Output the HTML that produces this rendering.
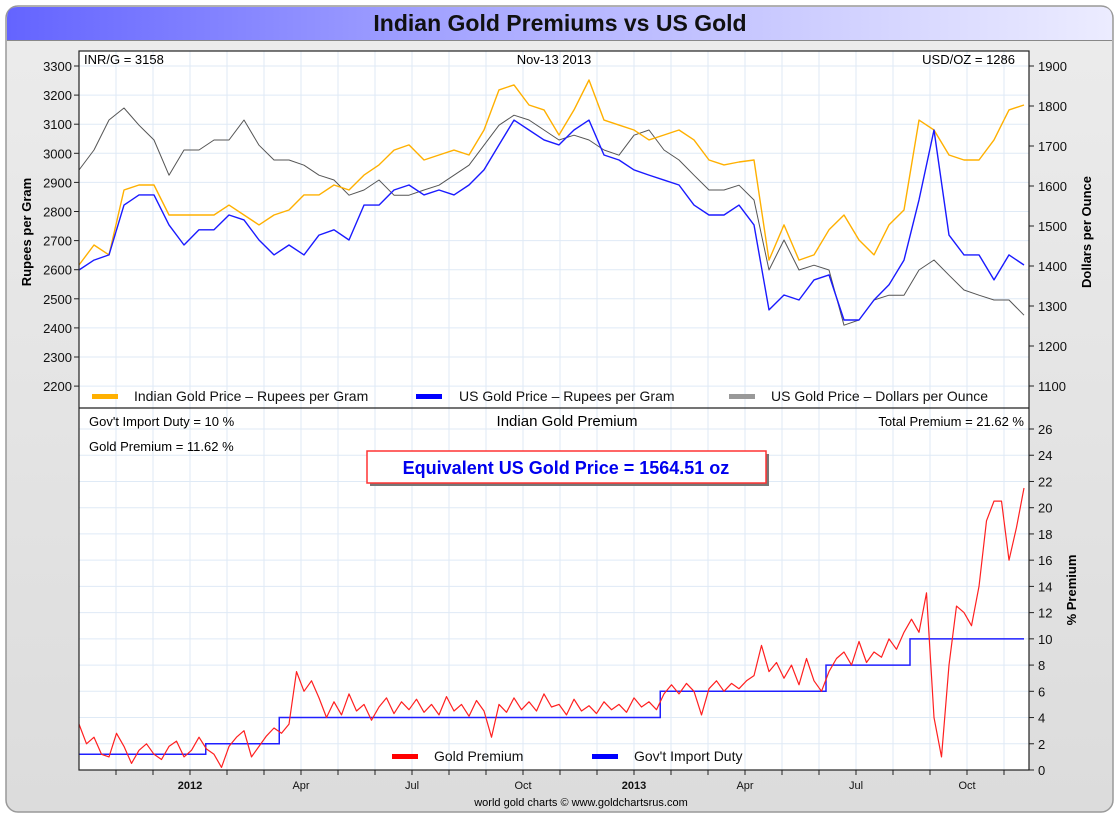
<!DOCTYPE html>
<html><head><meta charset="utf-8"><style>
body{margin:0;width:1119px;height:819px;background:#fff;overflow:hidden;font-family:"Liberation Sans",sans-serif}
</style></head><body>
<svg id="c" width="1119" height="819" xmlns="http://www.w3.org/2000/svg" font-family="Liberation Sans, sans-serif">
<defs>
<linearGradient id="tg" x1="0" x2="1" y1="0" y2="0"><stop offset="0" stop-color="#6464ff"/><stop offset="0.5" stop-color="#b4b4ff"/><stop offset="1" stop-color="#ececff"/></linearGradient>
<linearGradient id="bg" x1="0" x2="0" y1="0" y2="1"><stop offset="0" stop-color="#ececec"/><stop offset="1" stop-color="#dcdcdc"/></linearGradient>
</defs>
<rect x="6" y="6" width="1107" height="806" rx="12" fill="url(#bg)" stroke="#999" stroke-width="1.5"/>
<path d="M7,40 L7,18 Q7,7 18,7 L1101,7 Q1112,7 1112,18 L1112,40 Z" fill="url(#tg)"/>
<line x1="7" y1="40.5" x2="1112" y2="40.5" stroke="#888"/>
<text x="560" y="31" text-anchor="middle" font-size="23" font-weight="bold" fill="#111">Indian Gold Premiums vs US Gold</text>
<rect x="79" y="51" width="950" height="719" fill="#fff"/>
<g id="grid"></g>
<g id="series"></g>
<rect x="79" y="51" width="950" height="719" fill="none" stroke="#222" stroke-width="1.2"/>
<line x1="79" y1="408" x2="1029" y2="408" stroke="#222" stroke-width="1.2"/>
<g id="axes" font-size="13" fill="#111"></g>
<text x="84" y="64" font-size="13">INR/G = 3158</text>
<text x="554" y="64" font-size="13" text-anchor="middle">Nov-13  2013</text>
<text x="1015" y="64" font-size="13" text-anchor="end">USD/OZ = 1286</text>
<g font-size="14" fill="#111">
<rect x="92" y="394" width="26" height="5" fill="#ffb000"/>
<text x="134" y="401">Indian Gold Price – Rupees per Gram</text>
<rect x="416" y="394" width="26" height="5" fill="#0000ff"/>
<text x="459" y="401">US Gold Price – Rupees per Gram</text>
<rect x="729" y="394" width="26" height="5" fill="#999"/>
<text x="771" y="401">US Gold Price – Dollars per Ounce</text>
</g>
<text x="89" y="426" font-size="13">Gov't Import Duty = 10 %</text>
<text x="89" y="451" font-size="13">Gold Premium = 11.62 %</text>
<text x="567" y="426" font-size="15" text-anchor="middle">Indian Gold Premium</text>
<text x="1024" y="426" font-size="13" text-anchor="end">Total Premium = 21.62 %</text>
<rect x="370" y="454" width="399" height="32" fill="#777"/>
<rect x="367" y="451" width="399" height="32" fill="#fff" stroke="#f33" stroke-width="1.5"/>
<text x="566" y="474" font-size="18" font-weight="bold" fill="#0000ee" text-anchor="middle">Equivalent US Gold Price = 1564.51 oz</text>
<g font-size="14" fill="#111">
<rect x="392" y="754" width="26" height="5" fill="#ff0000"/>
<text x="434" y="761">Gold Premium</text>
<rect x="592" y="754" width="26" height="5" fill="#0000ff"/>
<text x="634" y="761">Gov't Import Duty</text>
</g>
<text transform="translate(31,232) rotate(-90)" font-size="13" font-weight="bold" text-anchor="middle">Rupees per Gram</text>
<text transform="translate(1091,232) rotate(-90)" font-size="13" font-weight="bold" text-anchor="middle">Dollars per Ounce</text>
<text transform="translate(1076,590) rotate(-90)" font-size="13" font-weight="bold" text-anchor="middle">% Premium</text>
<text x="581" y="806" font-size="11" text-anchor="middle">world gold charts © www.goldchartsrus.com</text>
</svg>
<script>
const indianInr=[2616,2685,2651,2874,2891,2891,2788,2788,2788,2788,2822,2788,2754,2788,2805,2857,2857,2891,2874,2925,2960,3011,3029,2977,2994,3011,2994,3080,3218,3235,3166,3149,3063,3149,3252,3114,3097,3080,3046,3063,3080,3046,2977,2960,2970,2977,2633,2754,2633,2651,2737,2788,2702,2651,2754,2805,3114,3080,2994,2977,2977,3046,3149,3166];
const usInr=[2599,2633,2651,2822,2857,2857,2754,2685,2737,2737,2788,2771,2702,2651,2685,2651,2719,2737,2702,2822,2822,2874,2891,2857,2874,2857,2891,2943,3029,3114,3080,3046,3029,3080,3114,2994,2977,2943,2925,2908,2891,2822,2788,2788,2822,2754,2462,2513,2496,2565,2582,2427,2427,2496,2548,2633,2840,3080,2719,2651,2651,2565,2651,2616];
const usUsd=[1640,1690,1765,1795,1752,1715,1627,1690,1690,1715,1715,1765,1702,1665,1665,1652,1627,1615,1577,1590,1615,1577,1577,1590,1602,1627,1652,1702,1752,1777,1765,1740,1715,1727,1715,1690,1677,1727,1740,1690,1665,1627,1590,1590,1602,1565,1390,1465,1390,1402,1390,1252,1265,1315,1327,1327,1390,1415,1377,1340,1327,1315,1315,1277];
const premium=[3.5,2.0,2.5,1.2,1.0,2.8,1.8,0.5,1.5,2.0,1.2,0.8,1.8,2.2,1.0,1.5,2.5,1.6,1.2,0.2,1.8,2.5,3.0,1.0,1.8,2.6,3.2,2.8,3.5,7.5,6.0,6.8,5.5,4.0,5.2,4.2,5.8,4.5,5.0,3.8,4.8,5.5,4.3,5.2,4.6,5.4,4.4,5.0,4.2,5.6,4.5,5.0,4.1,5.3,4.5,2.5,5.0,4.4,5.5,4.6,5.2,4.5,5.8,4.8,5.0,4.2,5.4,4.5,4.9,4.3,5.2,4.6,5.0,4.4,5.5,4.8,5.2,4.6,5.8,6.5,5.8,6.6,6.0,4.2,6.2,6.8,6.0,6.6,6.2,6.8,7.2,9.5,7.5,8.2,7.0,8.0,6.5,8.5,6.8,6.0,7.5,8.5,9.0,8.0,9.8,8.2,9.0,8.6,10.0,9.2,10.5,11.5,10.5,13.5,4.0,1.0,8.0,12.5,12.0,11.0,14.0,19.0,20.5,20.5,16.0,18.5,21.5];
const dutyRates=[1.2,2,4,6,8,10];
const dutyChangeIdx=[16.9,26.7,77.5,99.6,110.8];
const leftTicks=[3300,3200,3100,3000,2900,2800,2700,2600,2500,2400,2300,2200];
const rightTicks=[1900,1800,1700,1600,1500,1400,1300,1200,1100];
const pctTicks=[0,2,4,6,8,10,12,14,16,18,20,22,24,26];
const monthLabels=["2012","Apr","Jul","Oct","2013","Apr","Jul","Oct"];
const monthLabelIdx=[3,6,9,12,15,18,21,24];

const NS="http://www.w3.org/2000/svg";
const X0=79, XR=1024, MONTH=37;
const xTop=i=>X0+i*(XR-X0)/(indianInr.length-1);
const xPrem=i=>X0+i*(XR-X0)/(premium.length-1);
const yInr=v=>66+(3300-v)*0.291;
const yUsd=v=>66+(1900-v)*0.4;
const yPct=v=>770-v*13.115;
const xMonth=m=>X0+m*MONTH;
function mk(tag,at,parent){const e=document.createElementNS(NS,tag);for(const k in at)e.setAttribute(k,at[k]);parent.appendChild(e);return e;}
const grid=document.getElementById('grid'), ser=document.getElementById('series'), axes=document.getElementById('axes');
for(let m=1;m<=25;m++){
  const gl=mk('line',{x1:xMonth(m),x2:xMonth(m),y1:51,y2:770,stroke:'#dfeaf6'},grid);
  
  
  const tk=mk('line',{x1:xMonth(m),x2:xMonth(m),y1:770,y2:775,stroke:'#222'},axes);
  
  
}
leftTicks.forEach(v=>{
  const y=yInr(v);
  const gl=mk('line',{x1:79,x2:1029,y1:y,y2:y,stroke:'#dfeaf6'},grid);
  
  
  mk('line',{x1:74,x2:79,y1:y,y2:y,stroke:'#222'},axes);
  const t=mk('text',{x:72,y:y+5,'text-anchor':'end'},axes);t.textContent=v;
  
  
});
rightTicks.forEach(v=>{
  const y=yUsd(v);
  mk('line',{x1:1029,x2:1034,y1:y,y2:y,stroke:'#222'},axes);
  const t=mk('text',{x:1038,y:y+5},axes);t.textContent=v;
  
  
});
pctTicks.forEach(v=>{
  const y=yPct(v);
  const gl=mk('line',{x1:79,x2:1029,y1:y,y2:y,stroke:'#dfeaf6'},grid);
  
  
  mk('line',{x1:1029,x2:1034,y1:y,y2:y,stroke:'#222'},axes);
  const t=mk('text',{x:1038,y:y+5},axes);t.textContent=v;
  
  
});
monthLabels.forEach((s,i)=>{
  const t=mk('text',{x:xMonth(monthLabelIdx[i]),y:789,'text-anchor':'middle','font-size':11,'font-weight':(s.length===4?'bold':'normal')},axes);
  t.textContent=s;
  
  
});
function line(vals,xf,yf,color,w,name){
  const d=vals.map((v,i)=>(i?'L':'M')+xf(i).toFixed(1)+','+yf(v).toFixed(1)).join('');
  const p=mk('path',{d:d,fill:'none',stroke:color,'stroke-width':w,'stroke-linejoin':'round'},ser);
  
  
}
line(usUsd,xTop,yUsd,'#555',1,'us-gold-usd-line');
line(indianInr,xTop,yInr,'#ffb000',1.4,'indian-gold-inr-line');
line(usInr,xTop,yInr,'#1a1aff',1.4,'us-gold-inr-line');
// duty step line
let dd='M'+X0+','+yPct(dutyRates[0]);
dutyChangeIdx.forEach((ci,i)=>{const x=xPrem(ci);dd+='L'+x+','+yPct(dutyRates[i])+'L'+x+','+yPct(dutyRates[i+1]);});
dd+='L'+XR+','+yPct(dutyRates[dutyRates.length-1]);
const dp=mk('path',{d:dd,fill:'none',stroke:'#2020ff','stroke-width':1.5},ser);


line(premium,xPrem,yPct,'#ff2020',1.2,'gold-premium-line');
</script>
</body></html>
